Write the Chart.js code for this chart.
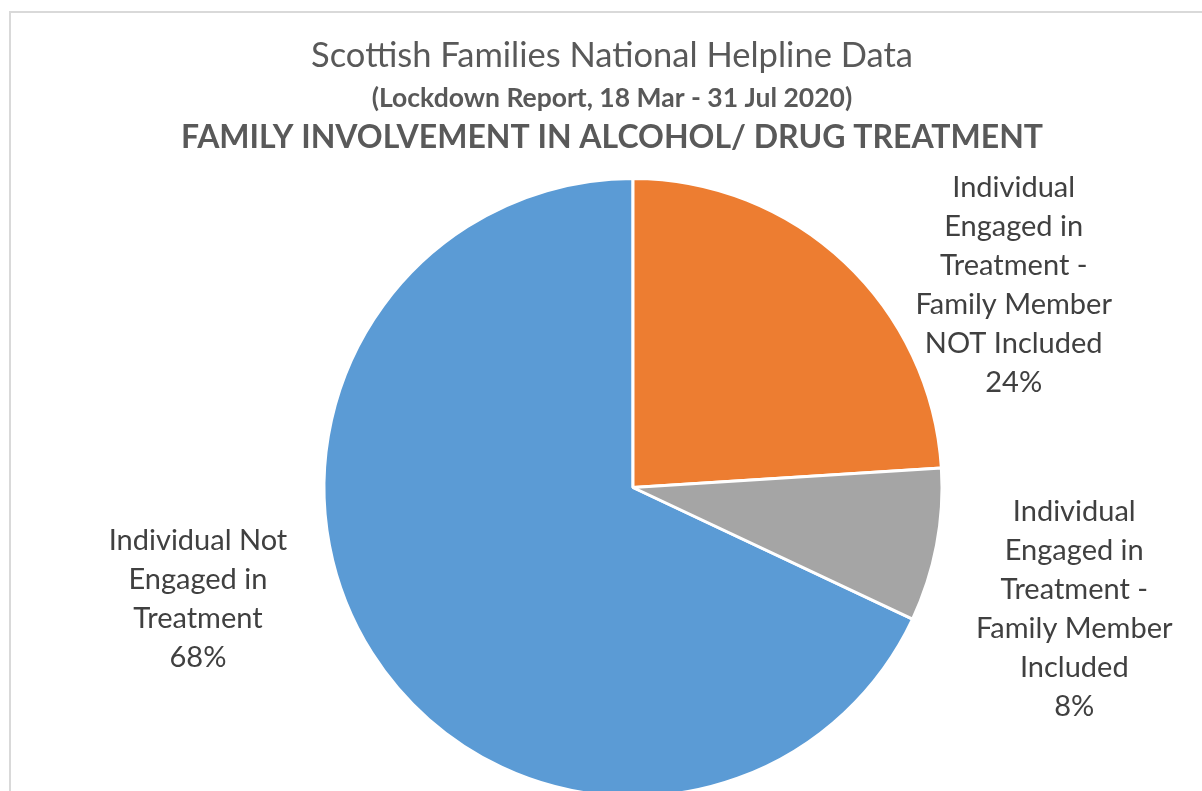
<!DOCTYPE html>
<html>
<head>
<meta charset="utf-8">
<script src="https://cdn.jsdelivr.net/npm/chart.js@4"></script>
<style>
  html, body { margin: 0; padding: 0; background: #fff; overflow: hidden; }
  #frame { position: absolute; left: 9px; top: 11px; border: 2px solid #d9d9d9; }
  #frame canvas { display: block; }
</style>
</head>
<body>
<div id="frame" style="width:1202px;height:800px;">
  <canvas id="familyPie" width="1202" height="800"></canvas>
</div>
<script>
var categories = [
  'Individual Not Engaged in Treatment',
  'Individual Engaged in Treatment - Family Member NOT Included',
  'Individual Engaged in Treatment - Family Member Included'
];
// wrapped text for the data labels
var labelLines = [
  ['Individual Not', 'Engaged in', 'Treatment'],
  ['Individual', 'Engaged in', 'Treatment -', 'Family Member', 'NOT Included'],
  ['Individual', 'Engaged in', 'Treatment -', 'Family Member', 'Included']
];
var shares = [68, 24, 8];
var sliceColors = ['#5b9bd5', '#ed7d31', '#a5a5a5'];
var titleLines = [
  'Scottish Families National Helpline Data',
  '(Lockdown Report, 18 Mar - 31 Jul 2020)',
  'FAMILY INVOLVEMENT IN ALCOHOL/ DRUG TREATMENT'
];

var FONT = 'Lato, "Open Sans", sans-serif';

// three heading lines, each with its own weight/size
var headingPlugin = {
  id: 'headings',
  afterDraw: function(chart) {
    var ctx = chart.ctx;
    var cx = chart.width / 2;
    var styles = [
      { font: '34.5px ' + FONT, color: '#595959', y: 43 },
      { font: 'bold 26.5px ' + FONT, color: '#595959', y: 85 },
      { font: 'bold 32px ' + FONT, color: '#595959', y: 125 }
    ];
    ctx.save();
    ctx.textAlign = 'center';
    ctx.textBaseline = 'middle';
    styles.forEach(function(s, i) {
      ctx.font = s.font;
      ctx.fillStyle = s.color;
      ctx.fillText(titleLines[i], cx, s.y);
    });
    ctx.restore();
  }
};

// category name + percentage next to each slice
var sliceLabelPlugin = {
  id: 'sliceLabels',
  afterDatasetsDraw: function(chart, args, opts) {
    var ctx = chart.ctx;
    var meta = chart.getDatasetMeta(0);
    var data = chart.data.datasets[0].data;
    var total = data.reduce(function(a, b) { return a + b; }, 0);
    ctx.save();
    ctx.font = opts.font;
    ctx.fillStyle = opts.color;
    ctx.textAlign = 'center';
    ctx.textBaseline = 'middle';
    meta.data.forEach(function(arc, i) {
      var r = arc.outerRadius;
      var off = opts.offsets[i];
      var x = arc.x + off[0] * r;
      var y = arc.y + off[1] * r;
      var lines = labelLines[i].concat([Math.round(data[i] / total * 100) + '%']);
      var top = y - (lines.length - 1) * opts.lineHeight / 2;
      lines.forEach(function(t, j) {
        ctx.fillText(t, x, top + j * opts.lineHeight);
      });
    });
    ctx.restore();
  }
};

var ctxPie = document.getElementById('familyPie').getContext('2d');
var familyPie = new Chart(ctxPie, {
  type: 'pie',
  data: {
    labels: categories,
    datasets: [{
      data: shares,
      backgroundColor: sliceColors,
      borderColor: '#ffffff',
      borderWidth: 3
    }]
  },
  options: {
    responsive: false,
    animation: false,
    rotation: 115.2,
    layout: {
      padding: { top: 164, bottom: 15, left: 311, right: 269 }
    },
    plugins: {
      legend: { display: false },
      title: { display: false },
      tooltip: { enabled: false },
      sliceLabels: {
        font: '29px ' + FONT,
        color: '#404040',
        lineHeight: 39,
        offsets: [[-1.408, 0.361], [1.232, -0.654], [1.428, 0.395]]
      }
    }
  },
  plugins: [headingPlugin, sliceLabelPlugin]
});
</script>
</body>
</html>
